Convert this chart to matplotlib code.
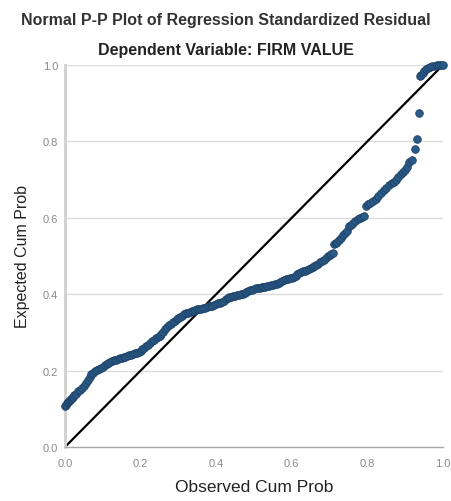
import matplotlib
matplotlib.use("Agg")
import matplotlib.pyplot as plt

# observed cumulative probability vs expected cumulative probability
observed = [0.000, 0.003, 0.005, 0.008, 0.010, 0.013, 0.015, 0.018, 0.020, 0.025,
            0.030, 0.035, 0.040, 0.045, 0.050, 0.055, 0.060, 0.065, 0.070, 0.075,
            0.080, 0.085, 0.090, 0.095, 0.100, 0.105, 0.110, 0.115, 0.120, 0.125,
            0.130, 0.135, 0.140, 0.145, 0.150, 0.155, 0.160, 0.165, 0.170, 0.175,
            0.180, 0.185, 0.190, 0.195, 0.200, 0.205, 0.210, 0.215, 0.220, 0.225,
            0.230, 0.235, 0.240, 0.245, 0.250, 0.255, 0.260, 0.265, 0.270, 0.275,
            0.280, 0.285, 0.290, 0.295, 0.300, 0.305, 0.310, 0.315, 0.320, 0.325,
            0.330, 0.335, 0.340, 0.345, 0.350, 0.355, 0.360, 0.365, 0.370, 0.375,
            0.380, 0.385, 0.390, 0.395, 0.400, 0.405, 0.410, 0.415, 0.420, 0.425,
            0.430, 0.435, 0.440, 0.445, 0.450, 0.455, 0.460, 0.465, 0.470, 0.475,
            0.480, 0.485, 0.490, 0.495, 0.500, 0.505, 0.510, 0.515, 0.520, 0.525,
            0.530, 0.535, 0.540, 0.545, 0.550, 0.555, 0.560, 0.565, 0.570, 0.575,
            0.580, 0.585, 0.590, 0.595, 0.600, 0.605, 0.610, 0.615, 0.620, 0.625,
            0.630, 0.635, 0.640, 0.645, 0.650, 0.655, 0.660, 0.665, 0.670, 0.675,
            0.680, 0.685, 0.690, 0.695, 0.700, 0.705, 0.708, 0.712, 0.716, 0.720,
            0.725, 0.730, 0.735, 0.740, 0.745, 0.750, 0.756, 0.762, 0.768, 0.774,
            0.780, 0.786, 0.792, 0.797, 0.802, 0.808, 0.815, 0.822, 0.829, 0.836,
            0.843, 0.850, 0.857, 0.864, 0.870, 0.876, 0.882, 0.888, 0.894, 0.900,
            0.906, 0.911, 0.918, 0.926, 0.930, 0.936, 0.939, 0.942, 0.946, 0.950,
            0.955, 0.960, 0.966, 0.972, 0.978, 0.984, 0.990, 0.995, 1.000]
expected = [0.107, 0.111, 0.115, 0.118, 0.120, 0.122, 0.125, 0.128, 0.130, 0.136,
            0.140, 0.146, 0.150, 0.155, 0.160, 0.168, 0.175, 0.183, 0.190, 0.194,
            0.198, 0.202, 0.205, 0.208, 0.210, 0.214, 0.218, 0.221, 0.223, 0.225,
            0.227, 0.229, 0.230, 0.232, 0.233, 0.235, 0.236, 0.238, 0.240, 0.242,
            0.243, 0.245, 0.247, 0.249, 0.252, 0.256, 0.260, 0.264, 0.268, 0.273,
            0.277, 0.281, 0.285, 0.288, 0.290, 0.295, 0.300, 0.308, 0.315, 0.319,
            0.322, 0.326, 0.330, 0.334, 0.337, 0.340, 0.343, 0.347, 0.350, 0.352,
            0.353, 0.355, 0.357, 0.359, 0.360, 0.361, 0.362, 0.364, 0.365, 0.367,
            0.368, 0.369, 0.370, 0.372, 0.374, 0.376, 0.378, 0.380, 0.383, 0.387,
            0.390, 0.392, 0.393, 0.395, 0.396, 0.397, 0.398, 0.400, 0.401, 0.403,
            0.405, 0.408, 0.410, 0.412, 0.413, 0.415, 0.416, 0.417, 0.418, 0.419,
            0.420, 0.421, 0.422, 0.424, 0.425, 0.427, 0.428, 0.430, 0.432, 0.434,
            0.437, 0.439, 0.440, 0.442, 0.443, 0.446, 0.448, 0.452, 0.455, 0.458,
            0.460, 0.462, 0.464, 0.466, 0.468, 0.471, 0.474, 0.477, 0.480, 0.483,
            0.486, 0.490, 0.495, 0.500, 0.502, 0.505, 0.507, 0.531, 0.534, 0.537,
            0.542, 0.548, 0.554, 0.560, 0.565, 0.578, 0.582, 0.587, 0.592, 0.597,
            0.600, 0.603, 0.605, 0.630, 0.635, 0.640, 0.645, 0.650, 0.657, 0.665,
            0.672, 0.678, 0.685, 0.690, 0.695, 0.700, 0.707, 0.714, 0.720, 0.725,
            0.732, 0.746, 0.752, 0.780, 0.806, 0.875, 0.970, 0.975, 0.980, 0.985,
            0.990, 0.993, 0.995, 0.997, 0.998, 0.999, 0.999, 1.000, 1.000]

yticks = [0.0, 0.2, 0.4, 0.6, 0.8, 1.0]
xticks = [0.0, 0.2, 0.4, 0.6, 0.8, 1.0]

plt.rcParams['font.family'] = ['Liberation Sans', 'DejaVu Sans']

fig = plt.figure(figsize=(4.51, 5.02), dpi=100)
ax = fig.add_axes([65 / 451, 54 / 502, 378 / 451, 382 / 502])

for y in yticks[1:]:
    ax.axhline(y, color='#dcdcdc', lw=1.0, zorder=0)

ax.plot([0, 1], [0, 1], color='black', lw=1.6, zorder=2)
ax.scatter(observed, expected, s=30, color='#2a5a86', edgecolors='#1d4268',
           linewidths=0.6, zorder=3, clip_on=False)

ax.set_xlim(0, 1)
ax.set_ylim(0, 1)
ax.set_xticks(xticks)
ax.set_yticks(yticks)
ax.set_xticklabels(['%.1f' % t for t in xticks])
ax.set_yticklabels(['%.1f' % t for t in yticks])
ax.tick_params(length=0, labelsize=8, labelcolor='#8a8a8a')
ax.tick_params(axis='x', pad=8)
ax.tick_params(axis='y', pad=5)

for s in ['top', 'right']:
    ax.spines[s].set_visible(False)
ax.spines['left'].set_color('#cfcfcf')
ax.spines['left'].set_linewidth(2.0)
ax.spines['bottom'].set_color('#a8a8a8')
ax.spines['bottom'].set_linewidth(1.0)

ax.set_xlabel('Observed Cum Prob', fontsize=12.5, color='#222222', labelpad=8)
ax.set_ylabel('Expected Cum Prob', fontsize=11.5, color='#222222', labelpad=9)

fig.text(0.5, 1 - 21 / 502, 'Normal P-P Plot of Regression Standardized Residual',
         ha='center', va='center', fontsize=11.5, fontweight='bold', color='#333333')
fig.text(0.5, 1 - 51 / 502, 'Dependent Variable: FIRM VALUE',
         ha='center', va='center', fontsize=11.5, fontweight='bold', color='#222222')

fig.savefig('out.png', dpi=100)
